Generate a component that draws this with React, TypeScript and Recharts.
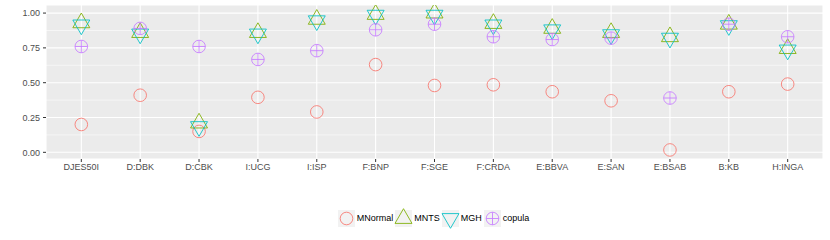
// scatter of dependence estimates per stock, ggplot look with custom point shapes
import * as React from 'react';
import {
  ScatterChart,
  Scatter,
  XAxis,
  YAxis,
  CartesianGrid,
  ReferenceLine,
  Legend,
} from 'recharts';

const categories = [
  'DJES50I', 'D:DBK', 'D:CBK', 'I:UCG', 'I:ISP', 'F:BNP', 'F:SGE',
  'F:CRDA', 'E:BBVA', 'E:SAN', 'E:BSAB', 'B:KB', 'H:INGA',
];
const mnormal = [0.2, 0.41, 0.15, 0.395, 0.29, 0.63, 0.48, 0.485, 0.435, 0.37, 0.017, 0.435, 0.49];
const mnts = [0.93, 0.86, 0.21, 0.86, 0.955, 0.99, 1.0, 0.925, 0.89, 0.86, 0.83, 0.92, 0.745];
const mgh = [0.915, 0.85, 0.185, 0.85, 0.945, 0.985, 0.985, 0.915, 0.88, 0.845, 0.82, 0.91, 0.735];
const copula = [0.76, 0.89, 0.76, 0.667, 0.73, 0.88, 0.92, 0.83, 0.81, 0.82, 0.39, 0.92, 0.83];

const yTicks = [0, 0.25, 0.5, 0.75, 1];
const yMinor = [0.125, 0.375, 0.625, 0.875];

const COLORS = {
  MNormal: '#F8766D',
  MNTS: '#7CAE00',
  MGH: '#00BFC4',
  copula: '#C77CFF',
};

const FONT = '"Liberation Sans", Arial, sans-serif';
const R = 6.3;

type Kind = 'circle' | 'up' | 'down' | 'plus';

function Marker(props: { cx: number; cy: number; kind: Kind; color: string }) {
  const { cx, cy, kind, color } = props;
  const common = { fill: 'none', stroke: color, strokeWidth: 1, strokeOpacity: 0.85 };
  if (kind === 'circle') return <circle cx={cx} cy={cy} r={R} {...common} />;
  if (kind === 'plus') {
    return (
      <g {...common}>
        <circle cx={cx} cy={cy} r={R} />
        <line x1={cx - R} y1={cy} x2={cx + R} y2={cy} />
        <line x1={cx} y1={cy - R} x2={cx} y2={cy + R} />
      </g>
    );
  }
  // R's pch 2 / 6 triangles, centroid on the point
  const r = 1.5551 * R;
  const h = 1.3468 * R;
  const sgn = kind === 'up' ? 1 : -1;
  const pts = [
    [cx, cy - sgn * r],
    [cx + h, cy + sgn * r / 2],
    [cx - h, cy + sgn * r / 2],
  ]
    .map((p) => p.join(','))
    .join(' ');
  return <polygon points={pts} {...common} />;
}

const SERIES: { name: keyof typeof COLORS; values: number[]; kind: Kind }[] = [
  { name: 'MNormal', values: mnormal, kind: 'circle' },
  { name: 'MNTS', values: mnts, kind: 'up' },
  { name: 'MGH', values: mgh, kind: 'down' },
  { name: 'copula', values: copula, kind: 'plus' },
];

function LegendBox() {
  return (
    <div
      style={{
        display: 'flex',
        justifyContent: 'center',
        alignItems: 'center',
        paddingLeft: 46,
        height: 20,
        fontFamily: FONT,
        fontSize: 9,
        color: '#000',
      }}
    >
      {SERIES.map((s) => (
        <div key={s.name} style={{ display: 'flex', alignItems: 'center', marginRight: 2 }}>
          <svg width={17} height={17} style={{ overflow: 'visible' }}>
            <rect x={0} y={0} width={17} height={17} fill="#F2F2F2" />
            <Marker cx={8.5} cy={8.5} kind={s.kind} color={COLORS[s.name]} />
          </svg>
          <span style={{ marginLeft: 2 }}>{s.name}</span>
        </div>
      ))}
    </div>
  );
}

export default function App() {
  return (
    <div style={{ position: 'absolute', left: 0, top: 0, background: '#fff' }}>
      <ScatterChart
        width={830}
        height={240}
        margin={{ top: 5, right: 7, bottom: 12, left: 0 }}
      >
        <CartesianGrid fill="#EBEBEB" stroke="#FFFFFF" strokeWidth={1.1} />
        {yMinor.map((v) => (
          <ReferenceLine key={v} y={v} stroke="#FFFFFF" strokeWidth={0.55} />
        ))}
        <XAxis
          type="number"
          dataKey="x"
          domain={[0.4, 13.6]}
          ticks={categories.map((_, i) => i + 1)}
          interval={0}
          tickFormatter={(v: number) => categories[v - 1]}
          axisLine={false}
          tickLine={{ stroke: '#333333' }}
          tickSize={3}
          tickMargin={2}
          height={49}
          tick={{ fill: '#4D4D4D', fontSize: 9, fontFamily: FONT }}
        />
        <YAxis
          type="number"
          dataKey="y"
          domain={[-0.048, 1.058]}
          ticks={yTicks}
          allowDataOverflow
          tickFormatter={(v: number) => v.toFixed(2)}
          axisLine={false}
          tickLine={{ stroke: '#333333' }}
          tickSize={3}
          tickMargin={3}
          width={46}
          tick={{ fill: '#4D4D4D', fontSize: 9, fontFamily: FONT }}
        />
        {SERIES.map((s) => (
          <Scatter
            key={s.name}
            name={s.name}
            data={categories.map((c, i) => ({ x: i + 1, y: s.values[i], name: c }))}
            isAnimationActive={false}
            shape={(p: any) => (
              <Marker cx={p.cx} cy={p.cy} kind={s.kind} color={COLORS[s.name]} />
            )}
          />
        ))}
        <Legend verticalAlign="bottom" height={20} content={() => <LegendBox />} />
      </ScatterChart>
    </div>
  );
}
